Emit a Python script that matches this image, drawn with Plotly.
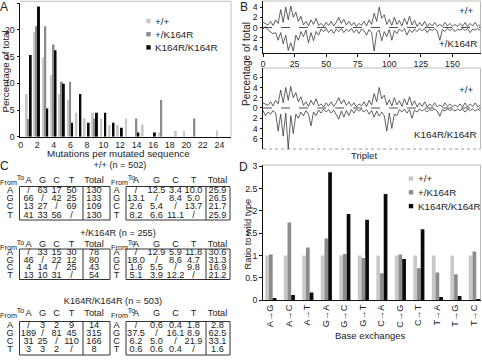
import plotly.graph_objects as go

W, H = 482, 360

# ---------------- Panel A data ----------------
mut_counts = list(range(1, 25))
pct_wt  = [8.0, 19.6, 14.9, 11.5, 8.0, 6.9, 4.5, 3.4, 4.5, 3.4, 2.2, 2.2, 3.4, 0, 2.3, 0, 0.8, 0, 1.1, 1.1, 0, 0, 0, 1.1]
pct_het = [3.3, 20.7, 20.7, 17.3, 10.3, 10.3, 0, 0, 3.4, 0, 0, 0, 0, 3.4, 0, 0, 6.9, 0, 0, 0, 3.4, 0, 0, 0]
pct_ki  = [15.3, 24.4, 5.3, 16.2, 9.9, 2.6, 8.0, 2.6, 4.5, 4.5, 2.6, 1.7, 0, 0.8, 0, 0.8, 0, 0, 0, 0, 0, 0, 0, 0]
genotypes = ["+/+", "+/K164R", "K164R/K164R"]

# ---------------- Panel B data ----------------
triplets = list(range(0, 173, 2))
line_wt = [1.0, 0.8, 0.5, 1.2, 0.4, 1.5, 0.8, 3.5, 1.0, 4.0, 1.5, 4.2, 2.0, 3.0, 1.2, 2.2,
           0.5, 1.2, 0.3, 1.5, 0.6, 1.8, 0.4, 0.8, 0.2, 1.0, 0.4, 1.2, 0.3, 1.0, 2.0, 0.8,
           1.6, 0.5, 1.2, 0.4, 1.0, 0.2, 0.8, 0.4, 1.2, 0.3, 1.5, 0.6, 2.8, 1.2, 4.0, 1.8,
           2.5, 0.6, 1.6, 0.4, 2.0, 0.6, 1.4, 0.3, 1.8, 0.6, 2.2, 0.5, 1.4, 0.2, 1.0, 0.3,
           1.2, 0.2, 0.8, 0.3, 1.0, 0.2, 0.6, 0.2, 1.0, 0.3, 0.8, 0.2, 0.6, 0.2, 0.8, 0.2,
           1.0, 0.2, 0.8, 0.3, 1.0, 0.2, 0.6]
line_het = [-0.3, 0.2, -0.5, -0.8, -1.2, -1.0, -2.5, -1.0, -3.2, -1.5, -4.5, -3.0, -4.6, -1.5, -2.5, -0.8,
            -1.8, -0.5, -3.0, -1.0, -2.6, -0.8, -1.5, -0.3, -0.8, -0.2, -1.0, -0.4, -1.2, -0.3, -0.8, -0.2,
            -1.0, -0.3, -0.8, -0.2, -1.0, -0.4, -1.2, -0.3, -0.6, -1.5, -0.4, -1.0, -4.6, -1.0, -0.5, -2.6,
            -0.8, -1.8, -0.4, -2.5, -0.6, -1.2, -0.3, -0.8, -0.2, -1.5, -0.4, -1.0, -0.3, -0.8, -0.2, -0.6,
            -0.2, -1.0, -0.3, -0.6, -0.2, -0.8, -2.5, -0.4, -0.8, -0.2, -0.6, -0.2, -0.8, -0.3, -0.5, -0.2,
            -0.6, -0.2, -1.0, -0.3, -0.5, -0.2, -0.6]
line_ki = [-0.5, -1.5, -0.8, -1.2, -0.5, -1.0, -4.5, -1.2, -5.5, -1.0, -8.0, -1.5, -5.0, -1.2, -2.0, -0.8,
           -1.5, -0.5, -1.2, -3.5, -0.8, -1.5, -0.4, -1.0, -0.2, -0.8, -0.3, -1.0, -0.4, -1.2, -2.2, -0.6,
           -1.8, -0.5, -1.5, -0.3, -1.0, -0.2, -0.6, -0.2, -0.8, -0.3, -1.2, -0.5, -1.8, -0.6, -1.6, -0.8,
           -1.5, -4.5, -1.0, -4.0, -1.2, -1.5, -0.3, -0.8, -0.2, -1.0, -0.3, -2.0, -0.4, -0.8, -0.2, -0.6,
           -0.2, -0.8, -0.3, -0.5, -0.2, -0.6, -1.6, -0.3, -0.6, -0.2, -0.5, -0.2, -0.6, -0.2, -0.5, -0.2,
           -0.8, -0.2, -0.5, -0.2, -0.6, -0.2, -0.5]

# ---------------- Panel C data ----------------
bases = ["A", "G", "C", "T"]
table_titles = ["+/+ (n = 502)", "+/K164R (n = 255)", "K164R/K164R (n = 503)"]
wt_counts = [[None, 63, 17, 50], [66, None, 42, 25], [13, 27, None, 69], [41, 33, 56, None]]
wt_count_totals = [130, 133, 109, 130]
wt_pct = [[None, 12.5, 3.4, 10.0], [13.1, None, 8.4, 5.0], [2.6, 5.4, None, 13.7], [8.2, 6.6, 11.1, None]]
wt_pct_totals = [25.9, 26.5, 21.7, 25.9]
het_counts = [[None, 33, 15, 30], [46, None, 22, 12], [4, 14, None, 25], [13, 10, 31, None]]
het_count_totals = [78, 80, 43, 54]
het_pct = [[None, 12.9, 5.9, 11.8], [18.0, None, 8.6, 4.7], [1.6, 5.5, None, 9.8], [5.1, 3.9, 12.2, None]]
het_pct_totals = [30.6, 31.3, 16.9, 21.2]
ki_counts = [[None, 3, 2, 9], [189, None, 81, 45], [31, 25, None, 110], [3, 3, 2, None]]
ki_count_totals = [14, 315, 166, 8]
ki_pct = [[None, 0.6, 0.4, 1.8], [37.5, None, 16.1, 8.9], [6.2, 5.0, None, 21.9], [0.6, 0.6, 0.4, None]]
ki_pct_totals = [2.8, 62.5, 33.1, 1.6]

# ---------------- Panel D data ----------------
exchanges = ["A→G", "A→C", "A→T", "G→A", "G→C", "G→T", "C→A", "C→G", "C→T", "T→A", "T→G", "T→C"]
ratio_wt  = [1.0, 1.0, 1.0, 1.0, 1.0, 1.0, 1.0, 1.0, 1.0, 1.0, 1.0, 1.0]
ratio_het = [1.02, 1.74, 1.18, 1.38, 1.03, 0.94, 0.60, 1.02, 0.71, 0.62, 0.58, 1.09]
ratio_ki  = [0.04, 0.11, 0.17, 2.87, 1.93, 1.80, 2.38, 0.92, 1.59, 0.07, 0.09, 0.02]

# ---------------- styling ----------------
FONT = "Liberation Sans, Arial, sans-serif"
TXT = "#222222"
COLORS = ["#c8c8c8", "#8c8c8c", "#0a0a0a"]
FRAME = "#bdbdbd"


def px(x):
    return x / W


def py(y):
    return 1 - y / H


fig = go.Figure()

# Panel A bars
a_offsets = [-0.39, -0.15, 0.09]
for name, vals, col, off in zip(genotypes, [pct_wt, pct_het, pct_ki], COLORS, a_offsets):
    fig.add_trace(go.Bar(x=mut_counts, y=vals, name=name, marker=dict(color=col, line=dict(width=0)),
                         width=0.24, offset=off, xaxis="x", yaxis="y", showlegend=False))

# Panel B lines
line_style = dict(color="#3a3a3a", width=0.8)
fig.add_trace(go.Scatter(x=triplets, y=line_wt, mode="lines", line=line_style, xaxis="x2", yaxis="y2", showlegend=False))
fig.add_trace(go.Scatter(x=triplets, y=line_het, mode="lines", line=line_style, xaxis="x2", yaxis="y2", showlegend=False))
fig.add_trace(go.Scatter(x=triplets, y=line_wt, mode="lines", line=line_style, xaxis="x3", yaxis="y3", showlegend=False))
fig.add_trace(go.Scatter(x=triplets, y=line_ki, mode="lines", line=line_style, xaxis="x3", yaxis="y3", showlegend=False))

# Panel D bars
d_offsets = [-0.27, -0.07, 0.13]
for name, vals, col, off in zip(genotypes, [ratio_wt, ratio_het, ratio_ki], COLORS, d_offsets):
    fig.add_trace(go.Bar(x=exchanges, y=vals, name=name, marker=dict(color=col, line=dict(width=0)),
                         width=0.2, offset=off, xaxis="x4", yaxis="y4", showlegend=False))

# Panel C tables (hidden pixel-like axes x5/y5)
left_cols = [28.5, 42.5, 56.5, 71.5, 94]
right_cols = [136, 156.5, 175.5, 193.5, 217.5]
left_row_lab = 10
right_row_lab = 116.5
tables = [
    (wt_counts, wt_count_totals, wt_pct, wt_pct_totals),
    (het_counts, het_count_totals, het_pct, het_pct_totals),
    (ki_counts, ki_count_totals, ki_pct, ki_pct_totals),
]
title_y = [166, 233.5, 302]
title_x = [120, 118, 113]
header_y = [180.5, 245, 313.3]
box_y = [(186.5, 220), (249, 279.5), (321.5, 355)]
row_y = [[190.9, 199.0, 207.1, 215.3], [253.1, 260.5, 267.9, 275.3], [326.1, 334.1, 342.1, 350.2]]

tx, ty, tt = [], [], []
for t, (cnt, cnt_tot, pct, pct_tot) in enumerate(tables):
    hy = header_y[t]
    for cols in (left_cols, right_cols):
        for c, lab in enumerate(bases + ["Total"]):
            tx.append(cols[c]); ty.append(hy); tt.append(lab)
    for r in range(4):
        yy = row_y[t][r]
        tx += [left_row_lab, right_row_lab]; ty += [yy, yy]; tt += [bases[r], bases[r]]
        for c in range(4):
            v = cnt[r][c]
            tx.append(left_cols[c]); ty.append(yy); tt.append("/" if v is None else str(v))
            p = pct[r][c]
            tx.append(right_cols[c]); ty.append(yy); tt.append("/" if p is None else f"{p:.1f}")
        tx.append(left_cols[4]); ty.append(yy); tt.append(str(cnt_tot[r]))
        tx.append(right_cols[4]); ty.append(yy); tt.append(f"{pct_tot[r]:.1f}")
    tx.append(title_x[t]); ty.append(title_y[t]); tt.append(table_titles[t])

fig.add_trace(go.Scatter(x=tx, y=ty, text=tt, mode="text", textposition="middle center",
                         textfont=dict(family=FONT, size=9.2, color=TXT), xaxis="x5", yaxis="y5",
                         showlegend=False, hoverinfo="skip", cliponaxis=False))

# small From / To header labels
fx, fy, ft = [], [], []
for t in range(3):
    hy = header_y[t]
    for fromx, tox in ((8.5, 20.5), (119.5, 131.5)):
        fx += [fromx, tox]; fy += [hy + 3, hy - 2]; ft += ["From", "To"]
fig.add_trace(go.Scatter(x=fx, y=fy, text=ft, mode="text", textposition="middle center",
                         textfont=dict(family=FONT, size=7.2, color=TXT), xaxis="x5", yaxis="y5",
                         showlegend=False, hoverinfo="skip", cliponaxis=False))

shapes = []
# table boxes
for t in range(3):
    y0, y1 = box_y[t]
    for (bx0, bx1, div) in ((19.5, 110, 83), (126, 230, 206)):
        shapes.append(dict(type="rect", xref="x5", yref="y5", x0=bx0, x1=bx1, y0=y0, y1=y1,
                           line=dict(color="#333333", width=1)))
        shapes.append(dict(type="line", xref="x5", yref="y5", x0=div, x1=div, y0=y0, y1=y1,
                           line=dict(color="#333333", width=1)))


def gline(x0, y0, x1, y1, dash="solid", width=1):
    shapes.append(dict(type="line", xref="paper", yref="paper", x0=px(x0), x1=px(x1), y0=py(y0), y1=py(y1),
                       line=dict(color=FRAME, width=width, dash=dash), layer="below"))


# gray frames (top + right of panels)
gline(20, 1.3, 231, 1.3); gline(231, 1.3, 231, 136.7)
gline(263, 1, 480.5, 1); gline(480.5, 1, 480.5, 53)
gline(263, 68, 480.5, 68); gline(480.5, 68, 480.5, 149); gline(263, 149, 480.5, 149, dash="dot", width=1.5)
gline(262.7, 165, 480.5, 165); gline(480.5, 165, 480.5, 300)

# zero dashed lines in B
for xa, ya in (("x2 domain", "y2"), ("x3 domain", "y3")):
    shapes.append(dict(type="line", xref=xa, yref=ya, x0=0, x1=1, y0=0, y1=0,
                       line=dict(color="#222222", width=0.8, dash="dash")))

annotations = []


def ann(text, x, y, size=10, xanchor="center", yanchor="middle", angle=0, color=TXT):
    annotations.append(dict(text=text, x=px(x), y=py(y), xref="paper", yref="paper", showarrow=False,
                            xanchor=xanchor, yanchor=yanchor, textangle=angle,
                            font=dict(family=FONT, size=size, color=color)))


# manual legends (A and D)
for i, (name, col) in enumerate(zip(genotypes, COLORS)):
    yA = 21 + 13.2 * i
    shapes.append(dict(type="rect", xref="paper", yref="paper", x0=px(146.3), x1=px(150.7), y0=py(yA + 2.2), y1=py(yA - 2.2),
                       fillcolor=col, line=dict(width=0)))
    ann(name, 153, yA, size=9.8, xanchor="left")
    yD = 178.5 + 13.8 * i
    shapes.append(dict(type="rect", xref="paper", yref="paper", x0=px(408.8), x1=px(413.2), y0=py(yD + 2.2), y1=py(yD - 2.2),
                       fillcolor=col, line=dict(width=0)))
    ann(name, 416, yD, size=9.8, xanchor="left")

# axis titles / panel labels
ann("Mutations per mutated sequence", 118.5, 153.5, size=9.8)
ann("Percentage of total", 5.5, 72, size=9.8, angle=-90)
ann("Percentage of total", 246, 64, size=10, angle=-90)
ann("Triplet", 364, 155.5, size=9.5)
ann("Ratio to wild type", 247.5, 234, size=9.3, angle=-90)
ann("Base exchanges", 369.5, 335.5, size=9.5)
ann("A", 4, 7, size=12)
ann("B", 243.5, 7, size=12)
ann("C", 4, 166, size=12)
ann("D", 243.5, 167, size=12)
# B in-panel labels
ann("+/+", 475, 10.5, size=9.8, xanchor="right")
ann("+/K164R", 478.5, 43, size=9.8, xanchor="right")
ann("+/+", 475, 89, size=9.8, xanchor="right")
ann("K164R/K164R", 478.5, 134, size=9.8, xanchor="right")

axis_common = dict(showgrid=False, zeroline=False, showline=True, linecolor="#111111", linewidth=1,
                   ticks="outside", ticklen=2.5, tickwidth=1, tickcolor="#111111",
                   tickfont=dict(family=FONT, size=8.8, color=TXT))
xA = dict(axis_common)
xA.update(ticks="", ticklen=0)

fig.update_layout(
    width=W, height=H, margin=dict(l=0, r=0, t=0, b=0, autoexpand=False),
    paper_bgcolor="white", plot_bgcolor="white", barmode="overlay", showlegend=False,
    font=dict(family=FONT, color=TXT),
    xaxis=dict(domain=[px(20), px(231)], range=[-0.08, 25.4], tickvals=list(range(0, 25, 2)),
               anchor="y", **xA),
    yaxis=dict(domain=[py(136.7), py(3.3)], range=[0, 25], tickvals=[0, 5, 10, 15, 20, 25],
               anchor="x", **axis_common),
    xaxis2=dict(domain=[px(263), px(480.5)], range=[0, 172.2], tickvals=[0, 25, 50, 75, 100, 125, 150],
                anchor="y2", **axis_common),
    yaxis2=dict(domain=[py(53), py(1)], range=[-5, 5.2], tickvals=[4, 2, 0, -2, -4],
                ticktext=["4", "2", "0", "2", "4"], anchor="x2", **axis_common),
    xaxis3=dict(domain=[px(263), px(480.5)], range=[0, 172.2], showticklabels=False, showline=False,
                ticks="", showgrid=False, zeroline=False, anchor="y3"),
    yaxis3=dict(domain=[py(149), py(68)], range=[-8, 7.8], tickvals=[6, 4, 2, 0, -2, -4, -6],
                ticktext=["6", "4", "2", "0", "2", "4", "6"], anchor="x3", **axis_common),
    xaxis4=dict(domain=[px(262.7), px(480.5)], range=[-0.41, 11.36], anchor="y4", tickangle=-90,
                showgrid=False, zeroline=False, showline=True, linecolor="#111111", linewidth=1, ticks="",
                tickfont=dict(family=FONT, size=9.2, color=TXT)),
    yaxis4=dict(domain=[py(300), py(165)], range=[0, 3.03], tickvals=[0, 0.5, 1, 1.5, 2, 2.5, 3],
                ticktext=["0", "0.5", "1", "1.5", "2", "2.5", "3"], anchor="x4", **axis_common),
    xaxis5=dict(domain=[0, px(241)], range=[0, 241], visible=False, anchor="y5"),
    yaxis5=dict(domain=[0, py(160)], range=[360, 160], visible=False, anchor="x5"),
    shapes=shapes, annotations=annotations,
)

fig.write_html("out.html", config={"displayModeBar": False},
               post_script="document.body.style.margin='0px';document.body.style.overflow='hidden';")
